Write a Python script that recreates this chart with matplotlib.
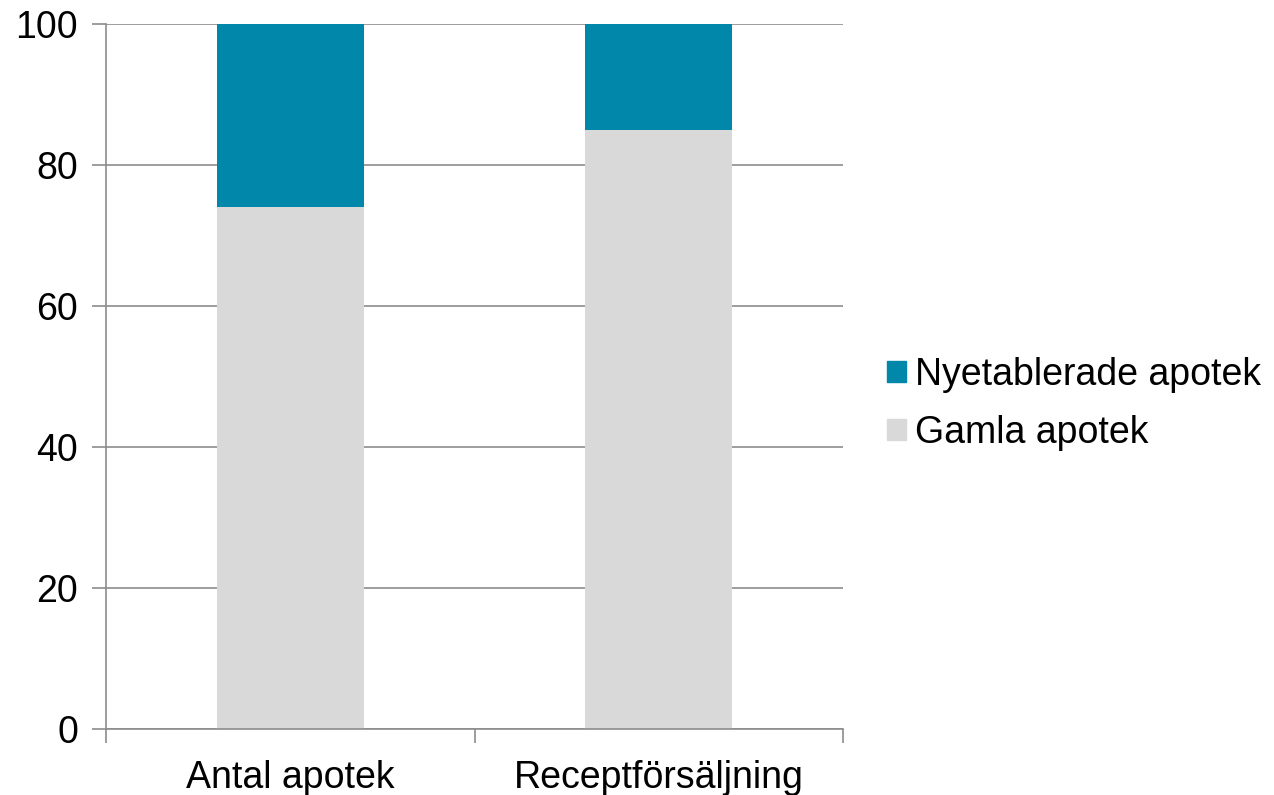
import numpy as np
import matplotlib.pyplot as plt
from matplotlib.patches import Patch

plt.rcParams['font.family'] = ['Liberation Sans', 'DejaVu Sans']

categories = ["Antal apotek", "Receptförsäljning"]
gamla = [74, 85]
nya = [26, 15]

col_gamla = "#d9d9d9"
col_nya = "#0087aa"
grid_col = "#8c8c8c"

fig = plt.figure(figsize=(12.74, 7.95), dpi=100)
ax = fig.add_axes([106 / 1274, 66 / 795, 737 / 1274, 705 / 795])

x = np.arange(len(categories))
ax.bar(x, gamla, width=0.4, color=col_gamla, zorder=2)
ax.bar(x, nya, width=0.4, bottom=gamla, color=col_nya, zorder=2)

ax.set_xlim(-0.5, len(categories) - 0.5)
ax.set_ylim(0, 100)
ax.set_yticks(range(0, 101, 20))
ax.yaxis.grid(True, color=grid_col, linewidth=1.2, zorder=0)
ax.set_xticks(x)
ax.set_xticklabels(categories)
ax.set_xticks(np.arange(-0.5, len(categories), 1.0), minor=True)
ax.tick_params(axis='x', which='major', length=0, pad=22, labelsize=27)
ax.tick_params(axis='x', which='minor', length=10, width=1.2, color=grid_col, direction='out')
ax.tick_params(axis='y', length=10, width=1.2, color=grid_col, pad=10, labelsize=27)

for s in ['top', 'right']:
    ax.spines[s].set_visible(False)
for s in ['left', 'bottom']:
    ax.spines[s].set_color(grid_col)
    ax.spines[s].set_linewidth(1.2)

handles = [Patch(color=col_nya), Patch(color=col_gamla)]
fig.legend(handles, ["Nyetablerade apotek", "Gamla apotek"], loc='upper left',
           bbox_to_anchor=(887 / 1274, 1 - 357 / 795), frameon=False, fontsize=27,
           borderpad=0, borderaxespad=0,
           handlelength=0.5, handleheight=0.5, handletextpad=0.25, labelspacing=0.58)

fig.savefig("out.png", dpi=100)
